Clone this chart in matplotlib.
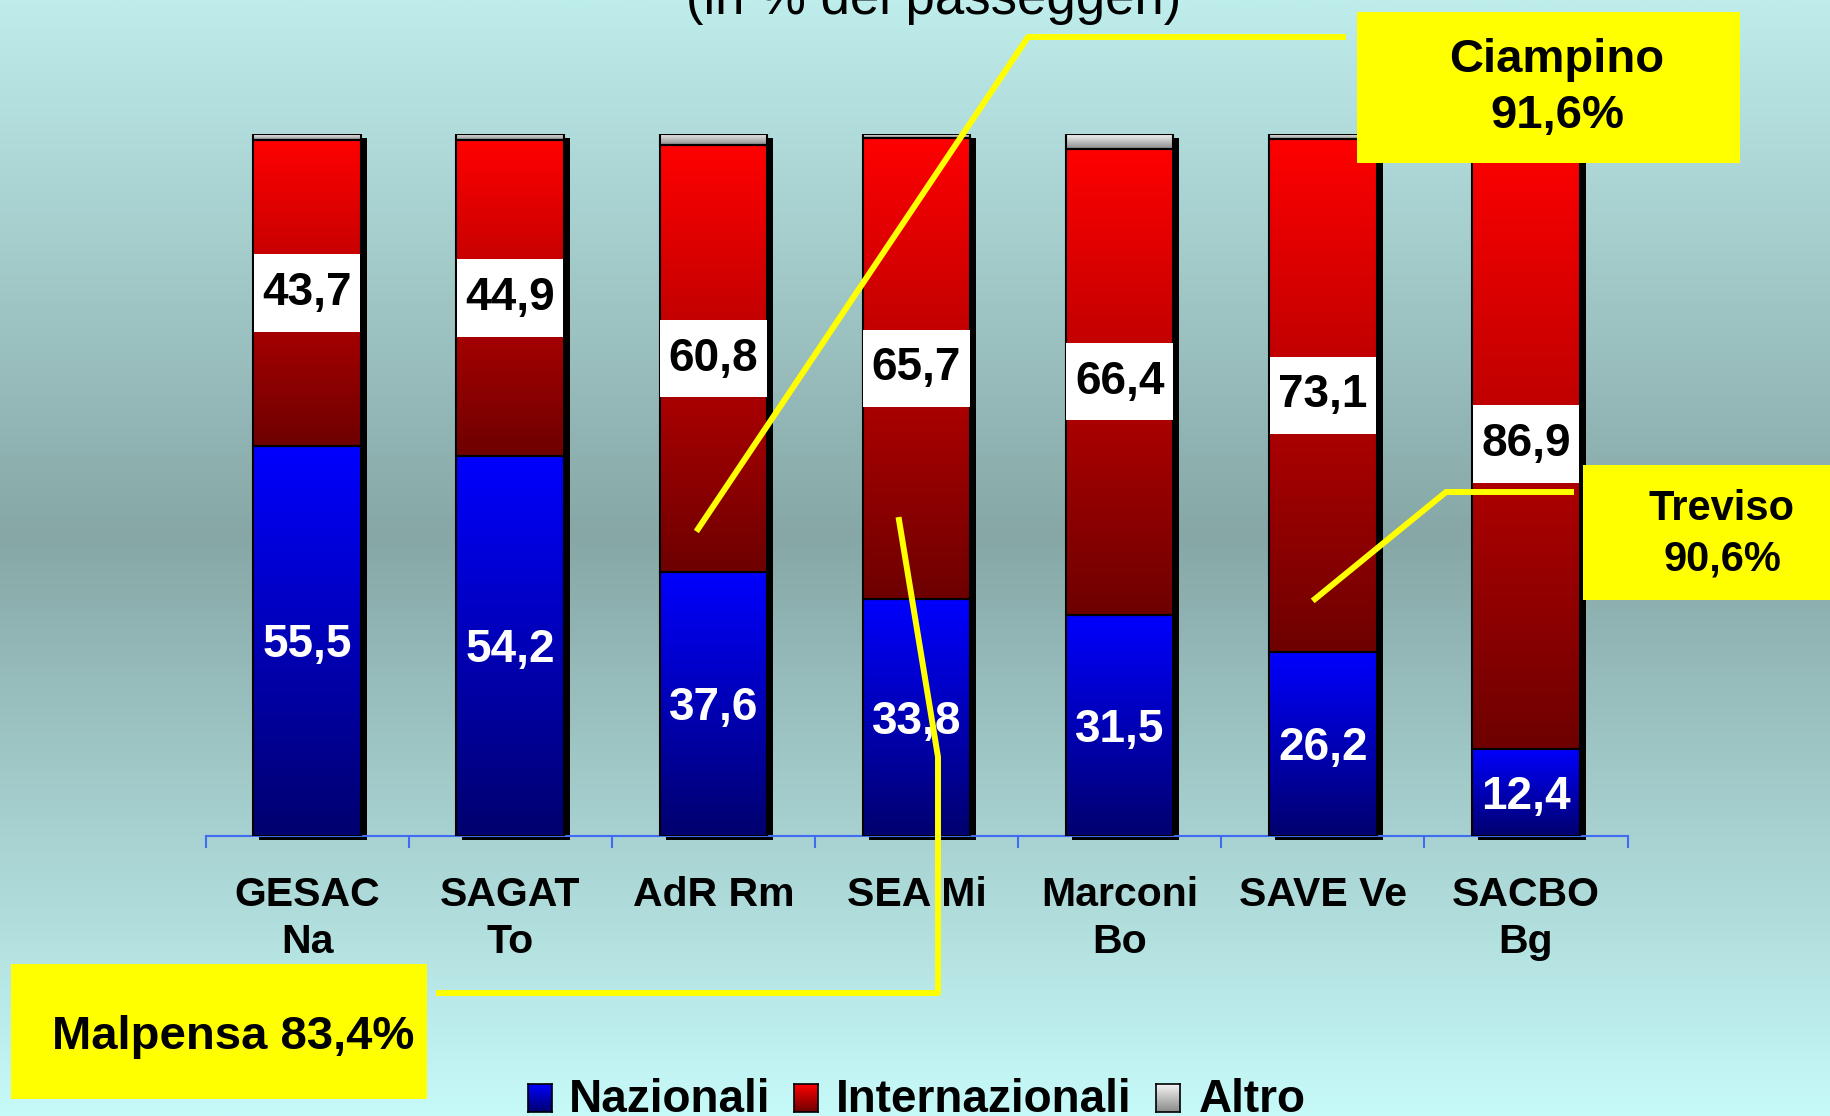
import numpy as np
import matplotlib
matplotlib.use('Agg')
import matplotlib.pyplot as plt
from matplotlib.colors import LinearSegmentedColormap
from matplotlib.patches import Rectangle
from matplotlib.lines import Line2D
from matplotlib.transforms import offset_copy

plt.rcParams['font.family'] = ['Liberation Sans', 'DejaVu Sans']

# dati (in % dei passeggeri)
categories = ['GESAC\nNa', 'SAGAT\nTo', 'AdR Rm', 'SEA Mi', 'Marconi\nBo', 'SAVE Ve', 'SACBO\nBg']
nazionali = [55.5, 54.2, 37.6, 33.8, 31.5, 26.2, 12.4]
internazionali = [43.7, 44.9, 60.8, 65.7, 66.4, 73.1, 86.9]
altro = [0.8, 0.9, 1.6, 0.5, 2.1, 0.7, 0.7]
series = ['Nazionali', 'Internazionali', 'Altro']
seg_colors = [['#0000FF', '#00006E'], ['#FF0000', '#6E0000'], ['#F5F5F5', '#8A8A8A']]

title = '(in % dei passeggeri)'
callout_ciampino = 'Ciampino\n91,6%'
callout_treviso = 'Treviso\n90,6%'
callout_malpensa = 'Malpensa 83,4%'

W, H = 1831, 1116


def fx(x):
    return x / W


def fy(y):
    return 1 - y / H


def fmt(v):
    return f'{v:.1f}'.replace('.', ',')


fig = plt.figure(figsize=(W / 100, H / 100), dpi=100)

# sfondo sfumato
bg = fig.add_axes([0, 0, 1, 1], zorder=0)
bg_cmap = LinearSegmentedColormap.from_list(
    'bg', [(0, '#BEEDEC'), (0.48, '#86A7A6'), (1, '#C6FAF9')])
bg.imshow(np.linspace(0, 1, 512).reshape(-1, 1), cmap=bg_cmap, aspect='auto', extent=(0, 1, 0, 1))
bg.axis('off')

ax = fig.add_axes([fx(205.5), fy(836), 1422 / W, 702 / H], zorder=1)
ax.patch.set_visible(False)

x = np.arange(len(categories))
width = 0.53
grad = np.linspace(0, 1, 256).reshape(-1, 1)
totals = np.array(nazionali) + np.array(internazionali) + np.array(altro)

# ombra
shadow_tr = offset_copy(ax.transData, fig=fig, x=6, y=-4, units='dots')
ax.bar(x, totals, width, color='black', transform=shadow_tr, zorder=1, clip_on=False)

bottom = np.zeros(len(x))
for vals, cols in zip([nazionali, internazionali, altro], seg_colors):
    cmap = LinearSegmentedColormap.from_list('seg', cols)
    bars = ax.bar(x, vals, width, bottom=bottom, facecolor='none',
                  edgecolor='black', linewidth=1.5, zorder=3)
    for rect in bars:
        x0, y0 = rect.get_xy()
        ax.imshow(grad, cmap=cmap, aspect='auto', zorder=2,
                  extent=(x0, x0 + rect.get_width(), y0, y0 + rect.get_height()))
    bottom += np.array(vals)

# etichette valori
for xi, v in zip(x, nazionali):
    ax.text(xi, v / 2 - 0.6, fmt(v), color='white', fontsize=33, fontweight='bold',
            ha='center', va='center', zorder=5)
for xi, v, b in zip(x, internazionali, nazionali):
    yc = b + v / 2
    ax.add_patch(Rectangle((xi - 0.262, yc - 5.5), 0.524, 11, facecolor='white',
                           edgecolor='none', zorder=4))
    ax.text(xi, yc, fmt(v), color='black', fontsize=33, fontweight='bold',
            ha='center', va='center', zorder=5)

ax.set_xlim(-0.5, 6.5)
ax.set_ylim(0, 100)
ax.set_yticks([])
ax.set_xticks(x, categories)
ax.set_xticks(np.arange(-0.5, 7, 1), minor=True)
ax.tick_params(axis='x', which='major', length=0, pad=29, labelsize=29.5)
ax.tick_params(axis='x', which='minor', length=8.6, width=1.5, color='#3F6CF0', direction='out')
for lbl in ax.get_xticklabels():
    lbl.set_fontweight('bold')
    lbl.set_linespacing(1.3)
for s in ['left', 'right', 'top']:
    ax.spines[s].set_visible(False)
ax.spines['bottom'].set_color('#3F6CF0')
ax.spines['bottom'].set_linewidth(1.5)

# titolo (tagliato in alto)
fig.text(fx(934), fy(14), title, ha='center', va='baseline', fontsize=38)

# richiami gialli
yellow = '#FFFF00'
for px, py in [([1343, 1028, 698], [37, 37, 529]),
               ([899, 938, 938, 439], [520, 757, 993, 993]),
               ([1571, 1446, 1315], [492, 492, 599])]:
    fig.add_artist(Line2D([fx(p) for p in px], [fy(p) for p in py], color=yellow,
                          linewidth=4.3, transform=fig.transFigure, zorder=5))

for (x0, x1, y0, y1) in [(1357, 1740, 12, 163), (1583, 1831, 465, 600), (11, 427, 964, 1099)]:
    fig.add_artist(Rectangle((fx(x0), fy(y1)), (x1 - x0) / W, (y1 - y0) / H,
                             transform=fig.transFigure, facecolor=yellow,
                             edgecolor='none', zorder=6))

fig.text(fx(1557), fy(88), callout_ciampino, ha='center', va='center', fontsize=34,
         fontweight='bold', linespacing=1.34, zorder=7)
fig.text(fx(1722), fy(534), callout_treviso, ha='center', va='center', fontsize=30,
         fontweight='bold', linespacing=1.33, zorder=7)
fig.text(fx(233), fy(1037), callout_malpensa, ha='center', va='center', fontsize=34,
         fontweight='bold', zorder=7)

# legenda
for name, cols, sx, tx in zip(series, seg_colors, [528, 794, 1156], [569, 836, 1199]):
    lax = fig.add_axes([fx(sx), fy(1112), 24 / W, 28 / H], zorder=3)
    lax.imshow(grad, cmap=LinearSegmentedColormap.from_list('leg', cols), aspect='auto')
    lax.set_xticks([])
    lax.set_yticks([])
    for s in lax.spines.values():
        s.set_linewidth(1.2)
    fig.text(fx(tx), fy(1112), name, ha='left', va='baseline', fontsize=33,
             fontweight='bold', zorder=7)

fig.savefig('out.png', dpi=100)
